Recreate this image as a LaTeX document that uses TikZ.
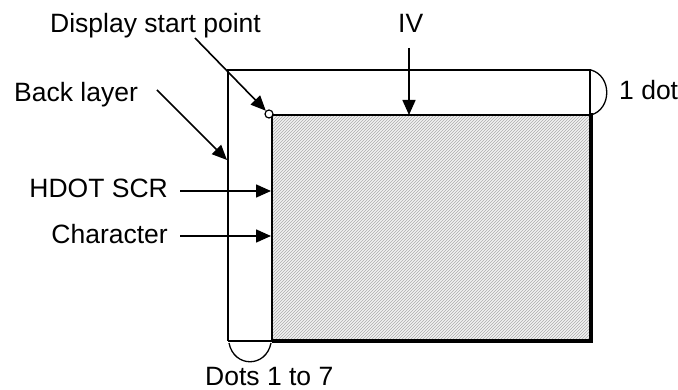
\documentclass[tikz,border=0pt]{standalone}
\usepackage{fontspec}
\setmainfont{Liberation Sans}
\usetikzlibrary{arrows.meta,patterns}
\begin{document}
\begin{tikzpicture}[x=1pt,y=-1pt,
  lbl/.style={inner sep=0pt, font=\fontsize{26.5}{31}\selectfont},
  pointer/.style={line width=1.6pt, -{Triangle[length=15pt,width=13pt]}},
  frame/.style={line width=2.4pt},
  heavy/.style={line width=3.6pt},
  bracket/.style={line width=1.3pt}]
\useasboundingbox (0,0) rectangle (678,390);
\fill[white] (0,0) rectangle (678,390);
% hatched character area
\fill[gray!10] (272,115) rectangle (590,341);
\fill[pattern=north east lines, pattern color=gray!65] (272,115) rectangle (590,341);
% back layer frame and character frame
\draw[frame] (228,341) -- (228,70) -- (590,70) -- (590,115) -- (272,115) -- (272,341) -- (228,341);
\draw[heavy] (272,341) -- (591,341) -- (591,113);
% display start point marker
\node[draw, circle, line width=1.2pt, fill=white, minimum size=8pt, inner sep=0pt] (start) at (269,114) {};
% brackets
\draw[bracket] (591,70) .. controls (612,76) and (612,109) .. (591,115);
\draw[bracket] (229,343) .. controls (234,368) and (266,368) .. (271,343);
% labels
\node[lbl, anchor=base west] (dsp) at (50,33) {Display start point};
\node[lbl, anchor=base west] (iv) at (398,33) {IV};
\node[lbl, anchor=base west] (dot1) at (619,100) {1 dot};
\node[lbl, anchor=base west] (back) at (14,102) {Back layer};
\node[lbl, anchor=base east] (hdot) at (168,198) {HDOT SCR};
\node[lbl, anchor=base east] (chr) at (168,244) {Character};
\node[lbl, anchor=base west] (dots) at (205,385) {Dots 1 to 7};
% arrow anchor points
\coordinate (dspS) at (195,38);
\coordinate (ivS) at (409,48);
\coordinate (ivE) at (409,115);
\coordinate (backS) at (157,90);
\coordinate (backE) at (227,160);
\coordinate (hdotS) at (180,191);
\coordinate (hdotE) at (271,191);
\coordinate (chrS) at (180,236);
\coordinate (chrE) at (271,236);
% arrows
\draw[pointer] (dspS) -- (start);
\draw[pointer] (ivS) -- (ivE);
\draw[pointer] (backS) -- (backE);
\draw[pointer] (hdotS) -- (hdotE);
\draw[pointer] (chrS) -- (chrE);
\end{tikzpicture}
\end{document}
